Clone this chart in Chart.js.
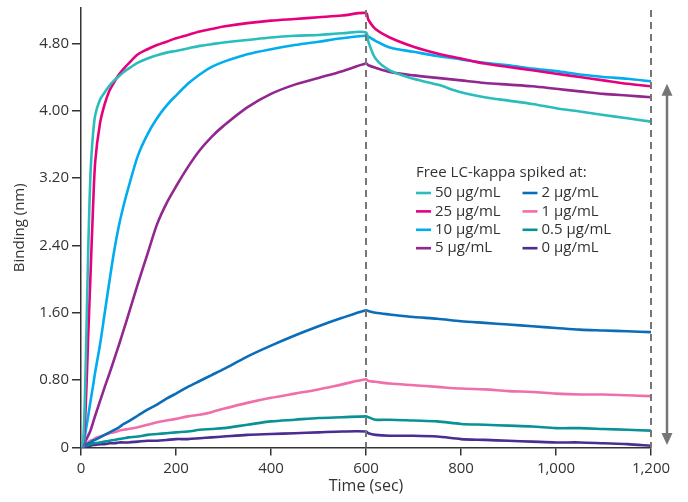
<!DOCTYPE html>
<html>
<head>
<meta charset="utf-8">
<script src="https://cdn.jsdelivr.net/npm/chart.js@4"></script>
<style>
  html, body { margin: 0; padding: 0; background: #fff; }
  #wrap { width: 688px; height: 502px; position: relative; }
</style>
</head>
<body>
<div id="wrap"><canvas id="c" width="688" height="502"></canvas></div>
<script>
// Time points (sec)
const timeSec = [0, 5, 10, 15, 20, 25, 30, 40, 50, 60, 70, 80, 90, 100, 120, 140, 160, 180, 200, 225, 250, 275, 300, 350, 400, 450, 500, 550, 600,
                 605, 620, 650, 700, 750, 800, 850, 900, 950, 1000, 1050, 1100, 1150, 1200];

// Binding (nm) per concentration
const conc50 = [0, 0.10, 1.00, 2.30, 3.25, 3.70, 3.95, 4.13, 4.22, 4.30, 4.36, 4.41, 4.46, 4.50, 4.57, 4.62, 4.66, 4.69, 4.71, 4.74, 4.77, 4.79, 4.81, 4.84, 4.87, 4.89, 4.90, 4.92, 4.93,
                4.82, 4.62, 4.48, 4.38, 4.31, 4.22, 4.16, 4.12, 4.08, 4.03, 3.99, 3.95, 3.91, 3.87];
const conc25 = [0, 0.05, 0.50, 1.30, 2.05, 2.80, 3.40, 3.85, 4.08, 4.24, 4.34, 4.43, 4.50, 4.56, 4.67, 4.73, 4.78, 4.82, 4.86, 4.90, 4.94, 4.97, 5.00, 5.04, 5.07, 5.09, 5.11, 5.13, 5.16,
                5.08, 4.97, 4.87, 4.76, 4.68, 4.62, 4.56, 4.52, 4.48, 4.44, 4.40, 4.36, 4.32, 4.29];
const conc10 = [0, 0.02, 0.20, 0.37, 0.55, 0.72, 0.90, 1.22, 1.60, 1.98, 2.34, 2.64, 2.88, 3.09, 3.47, 3.72, 3.91, 4.06, 4.18, 4.32, 4.43, 4.52, 4.58, 4.67, 4.73, 4.78, 4.82, 4.86, 4.89,
                4.88, 4.83, 4.75, 4.70, 4.65, 4.61, 4.57, 4.54, 4.50, 4.47, 4.43, 4.40, 4.38, 4.35];
const conc5 = [0, 0.02, 0.08, 0.14, 0.20, 0.29, 0.38, 0.55, 0.72, 0.88, 1.05, 1.22, 1.40, 1.58, 1.95, 2.30, 2.65, 2.90, 3.10, 3.33, 3.53, 3.69, 3.82, 4.04, 4.20, 4.31, 4.39, 4.47, 4.56,
               4.54, 4.51, 4.46, 4.42, 4.39, 4.36, 4.33, 4.31, 4.29, 4.26, 4.23, 4.20, 4.18, 4.16];
const conc2 = [0, 0.01, 0.03, 0.05, 0.06, 0.08, 0.09, 0.12, 0.15, 0.18, 0.21, 0.24, 0.28, 0.31, 0.38, 0.45, 0.51, 0.58, 0.64, 0.72, 0.79, 0.86, 0.93, 1.08, 1.21, 1.33, 1.44, 1.54, 1.63,
               1.62, 1.60, 1.58, 1.55, 1.53, 1.50, 1.48, 1.46, 1.44, 1.42, 1.40, 1.39, 1.38, 1.37];
const conc1 = [0, 0.01, 0.04, 0.06, 0.08, 0.09, 0.11, 0.13, 0.15, 0.17, 0.18, 0.20, 0.21, 0.22, 0.24, 0.27, 0.30, 0.32, 0.34, 0.37, 0.39, 0.42, 0.46, 0.53, 0.59, 0.64, 0.69, 0.75, 0.81,
               0.79, 0.78, 0.76, 0.74, 0.72, 0.70, 0.69, 0.67, 0.66, 0.64, 0.63, 0.63, 0.62, 0.61];
const conc05 = [0, 0.01, 0.02, 0.03, 0.04, 0.05, 0.05, 0.06, 0.07, 0.08, 0.09, 0.10, 0.11, 0.12, 0.13, 0.15, 0.16, 0.17, 0.18, 0.19, 0.21, 0.22, 0.23, 0.27, 0.31, 0.33, 0.35, 0.36, 0.37,
                0.36, 0.33, 0.33, 0.32, 0.31, 0.28, 0.27, 0.26, 0.25, 0.23, 0.23, 0.22, 0.21, 0.20];
const conc0 = [0, 0.00, 0.01, 0.02, 0.02, 0.03, 0.03, 0.04, 0.04, 0.05, 0.05, 0.06, 0.06, 0.06, 0.07, 0.08, 0.08, 0.09, 0.10, 0.10, 0.11, 0.12, 0.13, 0.15, 0.16, 0.17, 0.18, 0.19, 0.19,
               0.17, 0.15, 0.14, 0.14, 0.13, 0.10, 0.09, 0.08, 0.07, 0.06, 0.06, 0.05, 0.04, 0.02];

const seriesLabels = ['50 µg/mL', '25 µg/mL', '10 µg/mL', '5 µg/mL', '2 µg/mL', '1 µg/mL', '0.5 µg/mL', '0 µg/mL'];
const seriesValues = [conc50, conc25, conc10, conc5, conc2, conc1, conc05, conc0];
const seriesColors = ['#2bbcbc', '#e6007e', '#00adee', '#92278f', '#0b6cb8', '#f06ea9', '#0a9196', '#4a2d91'];

const legendTitle = 'Free LC-kappa spiked at:';
const yTicks = [0, 0.8, 1.6, 2.4, 3.2, 4.0, 4.8];
const xTicks = [0, 200, 400, 600, 800, 1000, 1200];
const phaseMarks = [600, 1200];

const FONT = '"Open Sans", "Noto Sans", sans-serif';
const TXT = '#333333';

const datasets = seriesValues.map((vals, i) => ({
  label: seriesLabels[i],
  data: timeSec.map((t, j) => ({ x: t, y: vals[j] })),
  borderColor: seriesColors[i],
  backgroundColor: seriesColors[i],
  borderWidth: 2.6,
  pointRadius: 0,
  tension: 0.3,
  fill: false,
  order: i
}));

const overlay = {
  id: 'overlay',
  afterDatasetsDraw(chart) {
    const ctx = chart.ctx;
    const xs = chart.scales.x, ys = chart.scales.y;
    const ca = chart.chartArea;
    ctx.save();
    // dashed phase lines
    ctx.strokeStyle = '#767676';
    ctx.lineWidth = 2;
    ctx.setLineDash([7, 5]);
    phaseMarks.forEach(v => {
      const px = Math.round(xs.getPixelForValue(v));
      ctx.beginPath();
      ctx.moveTo(px, ca.top + 2);
      ctx.lineTo(px, ca.bottom);
      ctx.stroke();
    });
    ctx.setLineDash([]);
    // double arrow
    const ax = xs.getPixelForValue(1200) + 16;
    const yTop = ys.getPixelForValue(4.32), yBot = ys.getPixelForValue(0.03);
    ctx.strokeStyle = '#767676';
    ctx.fillStyle = '#767676';
    ctx.lineWidth = 2.5;
    ctx.beginPath();
    ctx.moveTo(ax, yTop + 8);
    ctx.lineTo(ax, yBot - 8);
    ctx.stroke();
    ctx.beginPath();
    ctx.moveTo(ax, yTop); ctx.lineTo(ax - 5.5, yTop + 12); ctx.lineTo(ax + 5.5, yTop + 12); ctx.closePath(); ctx.fill();
    ctx.beginPath();
    ctx.moveTo(ax, yBot); ctx.lineTo(ax - 5.5, yBot - 12); ctx.lineTo(ax + 5.5, yBot - 12); ctx.closePath(); ctx.fill();

    // legend
    const lx = 416, ly = 173;
    ctx.font = '15px ' + FONT;
    ctx.fillStyle = TXT;
    ctx.textBaseline = 'middle';
    ctx.textAlign = 'left';
    ctx.fillText(legendTitle, lx, ly);
    chart.data.datasets.forEach((ds, i) => {
      const col = Math.floor(i / 4), row = i % 4;
      const x0 = lx + col * 106.5;
      const y0 = ly + 20 + row * 18.4;
      ctx.strokeStyle = ds.borderColor;
      ctx.lineWidth = 2.6;
      ctx.beginPath();
      ctx.moveTo(x0, y0);
      ctx.lineTo(x0 + 15, y0);
      ctx.stroke();
      ctx.fillStyle = TXT;
      ctx.fillText(ds.label, x0 + 19, y0);
    });
    ctx.restore();
  }
};

new Chart(document.getElementById('c'), {
  type: 'line',
  data: { datasets },
  options: {
    responsive: false,
    animation: false,
    layout: { padding: { top: 8, right: 37, left: 0, bottom: 0 } },
    plugins: { legend: { display: false }, tooltip: { enabled: false } },
    scales: {
      x: {
        type: 'linear', min: 0, max: 1200,
        afterFit(s) { s.height = 54.5; s.paddingLeft = 0; s.paddingRight = 0; },
        afterBuildTicks(s) { s.ticks = xTicks.map(v => ({ value: v })); },
        ticks: {
          color: TXT, font: { family: FONT, size: 15 }, padding: 4, maxRotation: 0,
          callback: v => v.toLocaleString('en-US')
        },
        grid: { display: true, drawOnChartArea: false, drawTicks: true, tickLength: 8, color: '#333', lineWidth: 1.5 },
        border: { display: true, color: '#333', width: 1.5 },
        title: { display: true, text: 'Time (sec)', color: TXT, font: { family: FONT, size: 16 }, padding: { top: 0, bottom: 6 } }
      },
      y: {
        type: 'linear', min: 0, max: 5.22,
        afterFit(s) { s.width = 81; s.paddingTop = 0; s.paddingBottom = 0; },
        afterBuildTicks(s) { s.ticks = yTicks.map(v => ({ value: v })); },
        ticks: {
          color: TXT, font: { family: FONT, size: 15 }, padding: 3,
          callback: v => v === 0 ? '0' : v.toFixed(2)
        },
        grid: { display: true, drawOnChartArea: false, drawTicks: true, tickLength: 9, color: '#333', lineWidth: 1.5 },
        border: { display: true, color: '#333', width: 1.5 },
        title: { display: true, text: 'Binding (nm)', color: TXT, font: { family: FONT, size: 15 }, padding: { top: 11, bottom: 0 } }
      }
    }
  },
  plugins: [overlay]
});
</script>
</body>
</html>
